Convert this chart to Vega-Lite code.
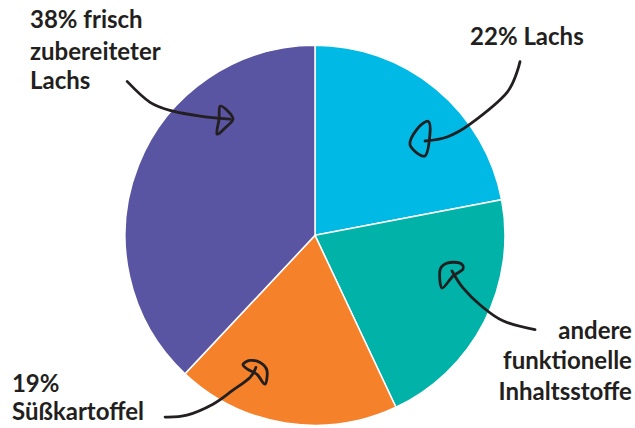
{
  "$schema": "https://vega.github.io/schema/vega-lite/v6.json",
  "width": 635,
  "height": 428,
  "padding": 0,
  "autosize": {"type": "fit", "contains": "padding"},
  "background": "white",
  "config": {"view": {"stroke": null}},
  "datasets": {
    "slices": [
      {"label": "Lachs", "pct": 22, "o": 1},
      {"label": "andere funktionelle Inhaltsstoffe", "pct": 21, "o": 2},
      {"label": "Süßkartoffel", "pct": 19, "o": 3},
      {"label": "frisch zubereiteter Lachs", "pct": 38, "o": 4}
    ],
    "curves": [
      {"id": "A", "s": 1, "x": -0.989, "y": 0.816},
      {"id": "A", "s": 2, "x": -0.868, "y": 0.705},
      {"id": "A", "s": 3, "x": -0.747, "y": 0.658},
      {"id": "A", "s": 4, "x": -0.605, "y": 0.632},
      {"id": "A", "s": 5, "x": -0.447, "y": 0.616},
      {"id": "B", "s": 1, "x": 1.079, "y": 0.921},
      {"id": "B", "s": 2, "x": 1.011, "y": 0.758},
      {"id": "B", "s": 3, "x": 0.816, "y": 0.589},
      {"id": "B", "s": 4, "x": 0.695, "y": 0.521},
      {"id": "B", "s": 5, "x": 0.579, "y": 0.5},
      {"id": "C", "s": 1, "x": 1.158, "y": -0.5},
      {"id": "C", "s": 2, "x": 0.989, "y": -0.453},
      {"id": "C", "s": 3, "x": 0.868, "y": -0.368},
      {"id": "C", "s": 4, "x": 0.779, "y": -0.279},
      {"id": "C", "s": 5, "x": 0.721, "y": -0.189},
      {"id": "D", "s": 1, "x": -0.789, "y": -0.963},
      {"id": "D", "s": 2, "x": -0.674, "y": -0.953},
      {"id": "D", "s": 3, "x": -0.537, "y": -0.895},
      {"id": "D", "s": 4, "x": -0.432, "y": -0.821},
      {"id": "D", "s": 5, "x": -0.342, "y": -0.753},
      {"id": "D", "s": 6, "x": -0.311, "y": -0.7}
    ],
    "heads": [
      {"id": "A", "s": 1, "x": -0.5, "y": 0.684},
      {"id": "A", "s": 2, "x": -0.458, "y": 0.658},
      {"id": "A", "s": 3, "x": -0.432, "y": 0.616},
      {"id": "A", "s": 4, "x": -0.468, "y": 0.574},
      {"id": "A", "s": 5, "x": -0.516, "y": 0.537},
      {"id": "A", "s": 6, "x": -0.505, "y": 0.616},
      {"id": "B", "s": 1, "x": 0.595, "y": 0.605},
      {"id": "B", "s": 2, "x": 0.605, "y": 0.537},
      {"id": "B", "s": 3, "x": 0.579, "y": 0.421},
      {"id": "B", "s": 4, "x": 0.5, "y": 0.479},
      {"id": "B", "s": 5, "x": 0.537, "y": 0.563},
      {"id": "C", "s": 1, "x": 0.668, "y": -0.279},
      {"id": "C", "s": 2, "x": 0.658, "y": -0.184},
      {"id": "C", "s": 3, "x": 0.695, "y": -0.147},
      {"id": "C", "s": 4, "x": 0.763, "y": -0.147},
      {"id": "C", "s": 5, "x": 0.779, "y": -0.179},
      {"id": "C", "s": 6, "x": 0.726, "y": -0.216},
      {"id": "D", "s": 1, "x": -0.379, "y": -0.684},
      {"id": "D", "s": 2, "x": -0.342, "y": -0.663},
      {"id": "D", "s": 3, "x": -0.289, "y": -0.674},
      {"id": "D", "s": 4, "x": -0.253, "y": -0.716},
      {"id": "D", "s": 5, "x": -0.263, "y": -0.789},
      {"id": "D", "s": 6, "x": -0.305, "y": -0.737},
      {"id": "D", "s": 7, "x": -0.353, "y": -0.711}
    ],
    "leftText": [
      {"t": "38% frisch", "x": -1.5, "y": 1.1},
      {"t": "zubereiteter", "x": -1.5, "y": 0.932},
      {"t": "Lachs", "x": -1.5, "y": 0.774},
      {"t": "22% Lachs", "x": 0.816, "y": 1.011},
      {"t": "19%", "x": -1.595, "y": -0.832},
      {"t": "Süßkartoffel", "x": -1.595, "y": -0.979}
    ],
    "rightText": [
      {"t": "andere", "x": 1.668, "y": -0.547},
      {"t": "funktionelle", "x": 1.668, "y": -0.711},
      {"t": "Inhaltsstoffe", "x": 1.668, "y": -0.874}
    ]
  },
  "encoding": {
    "x": {"type": "quantitative", "scale": {"domain": [-1.6579, 1.6842], "nice": false, "zero": false}, "axis": null},
    "y": {"type": "quantitative", "scale": {"domain": [-1.00526, 1.24737], "nice": false, "zero": false}, "axis": null}
  },
  "layer": [
    {
      "data": {"name": "slices"},
      "mark": {"type": "arc", "outerRadius": 190, "stroke": "white", "strokeWidth": 1.5},
      "encoding": {
        "theta": {"field": "pct", "type": "quantitative", "stack": true},
        "order": {"field": "o", "type": "quantitative"},
        "color": {
          "field": "label", "type": "nominal", "legend": null,
          "scale": {
            "domain": ["Lachs", "andere funktionelle Inhaltsstoffe", "Süßkartoffel", "frisch zubereiteter Lachs"],
            "range": ["#00b9e5", "#00b2a8", "#f5822b", "#5a55a3"]
          }
        },
        "x": {"datum": 0, "type": "quantitative"},
        "y": {"datum": 0, "type": "quantitative"}
      }
    },
    {
      "data": {"name": "curves"},
      "mark": {"type": "line", "interpolate": "cardinal", "color": "#231f20", "strokeWidth": 2.8, "strokeCap": "round"},
      "encoding": {
        "x": {"field": "x", "type": "quantitative"},
        "y": {"field": "y", "type": "quantitative"},
        "detail": {"field": "id"},
        "order": {"field": "s", "type": "quantitative"}
      }
    },
    {
      "data": {"name": "heads"},
      "mark": {"type": "line", "interpolate": "cardinal-closed", "color": "#231f20", "strokeWidth": 2.8, "strokeJoin": "round"},
      "encoding": {
        "x": {"field": "x", "type": "quantitative"},
        "y": {"field": "y", "type": "quantitative"},
        "detail": {"field": "id"},
        "order": {"field": "s", "type": "quantitative"}
      }
    },
    {
      "data": {"name": "leftText"},
      "mark": {"type": "text", "align": "left", "baseline": "alphabetic", "font": "Lato", "fontWeight": "bold", "fontSize": 24, "color": "#231f20"},
      "encoding": {
        "x": {"field": "x", "type": "quantitative"},
        "y": {"field": "y", "type": "quantitative"},
        "text": {"field": "t"}
      }
    },
    {
      "data": {"name": "rightText"},
      "mark": {"type": "text", "align": "right", "baseline": "alphabetic", "font": "Lato", "fontWeight": "bold", "fontSize": 24, "color": "#231f20"},
      "encoding": {
        "x": {"field": "x", "type": "quantitative"},
        "y": {"field": "y", "type": "quantitative"},
        "text": {"field": "t"}
      }
    }
  ]
}
